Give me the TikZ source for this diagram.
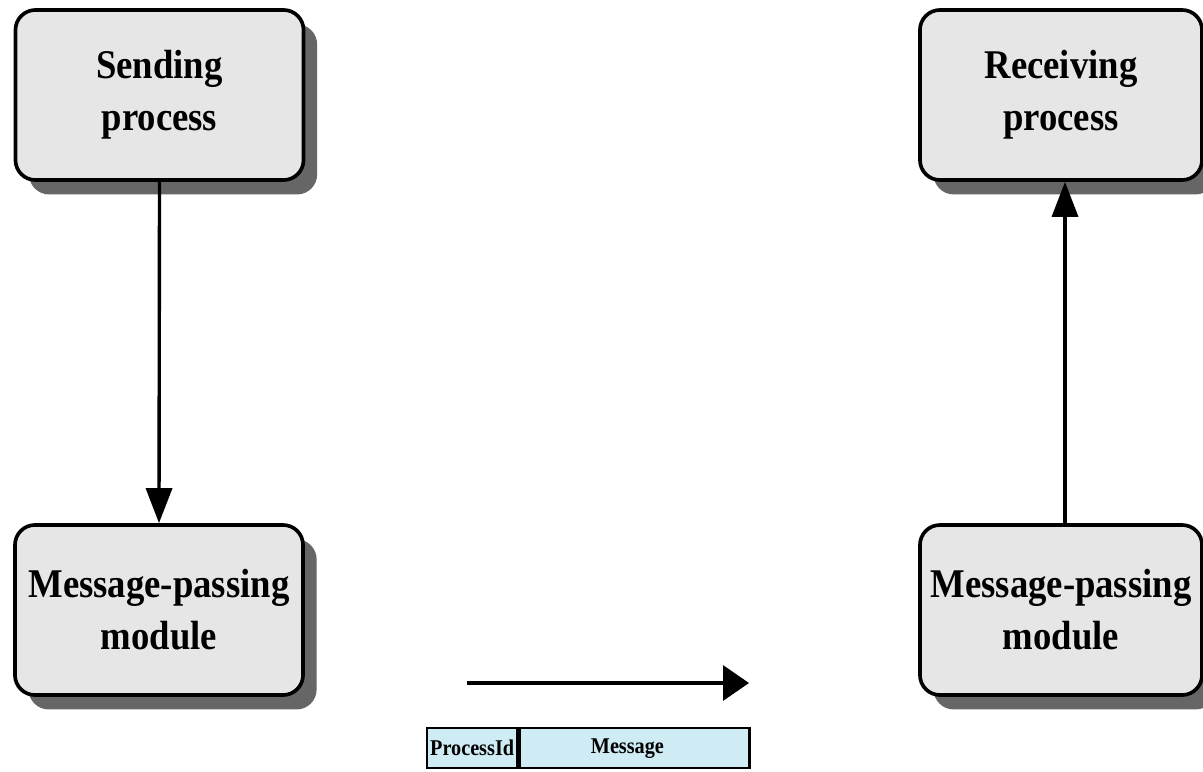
\documentclass[tikz,border=0pt]{standalone}
\usepackage{fontspec}
\setmainfont{Liberation Serif}[FakeStretch=0.9]
\usetikzlibrary{arrows.meta,shadows}
\definecolor{boxgray}{HTML}{E6E6E6}
\definecolor{shadowgray}{HTML}{666666}
\definecolor{msgblue}{HTML}{CFEBF3}
\begin{document}
\begin{tikzpicture}[x=0.025cm,y=-0.025cm,
  proc/.style={draw=black, line width=2.6pt, rounded corners=0.5cm, fill=boxgray,
    align=center, inner sep=0pt,
    font=\fontsize{29}{37}\selectfont\bfseries,
    drop shadow={shadow xshift=0.34cm, shadow yshift=-0.36cm, fill=shadowgray, opacity=1}},
  field/.style={draw=black, line width=1.6pt, fill=msgblue, inner sep=0pt,
    minimum height=1cm, font=\fontsize{16}{18}\selectfont\bfseries},
  flow/.style={line width=2.4pt, -{Triangle[length=0.875cm,width=0.65cm]}},
  wire/.style={line width=2.4pt, -{Triangle[length=0.65cm,width=0.875cm]}}]
\useasboundingbox (0,0) rectangle (1203,771);

% process boxes
\node[proc, minimum width=7.2cm, minimum height=4.25cm] (send) at (159.5,95) {Sending\\process};
\node[proc, minimum width=7.2cm, minimum height=4.25cm] (mpl) at (159,610) {Message-passing\\module};
\node[proc, minimum width=7.05cm, minimum height=4.25cm] (recv) at (1061,95) {Receiving\\process};
\node[proc, minimum width=7.05cm, minimum height=4.25cm] (mpr) at (1061,610) {Message-passing\\module};

% vertical connectors
\draw[flow] (send.south) -- (mpl.north);
\draw[flow] ([xshift=0.1cm]mpr.north) -- ([xshift=0.1cm]recv.south);

% transfer direction
\coordinate (tstart) at (467,683);
\coordinate (tend) at (749,683);
\draw[wire] (tstart) -- (tend);

% message format
\node[field, minimum width=2.25cm, anchor=north west] (pid) at (426,727) {ProcessId};
\node[field, minimum width=5.75cm, anchor=north west] (msg) at (pid.north east) {\hspace*{-0.35cm}Message};
\end{tikzpicture}
\end{document}
